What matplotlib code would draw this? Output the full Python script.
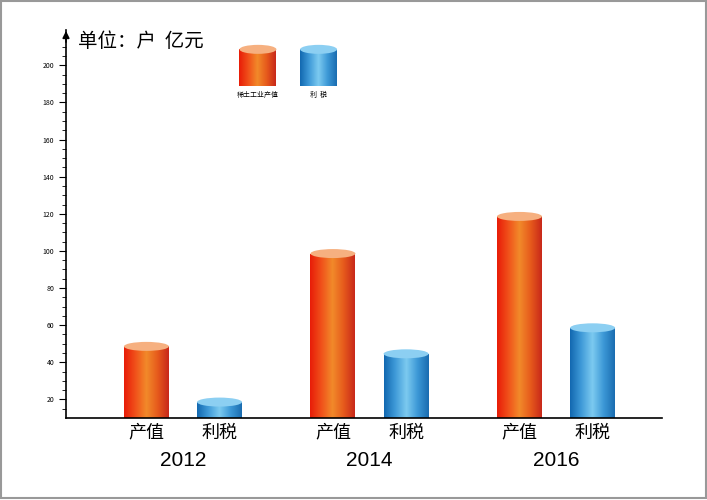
import numpy as np
import matplotlib
matplotlib.use("Agg")
import matplotlib.pyplot as plt
from matplotlib.patches import Ellipse, Rectangle
from matplotlib.colors import LinearSegmentedColormap

plt.rcParams['font.family'] = ['Noto Sans CJK SC', 'DejaVu Sans']

years = ["2012", "2014", "2016"]
series_names = ["产值", "利税"]
legend_names = ["稀土工业产值", "利  税"]
output_value = [51, 101, 121]
tax_value = [21, 47, 61]
yticks = [20, 40, 60, 80, 100, 120, 140, 160, 180, 200]

red_cmap = LinearSegmentedColormap.from_list("r", ["#e81c08", "#f0501a", "#f28a2a", "#e65a1c", "#c8281a"])
blue_cmap = LinearSegmentedColormap.from_list("b", ["#1268b0", "#3f9ad8", "#7ccaf0", "#3c98d6", "#1a6cb0"])
red_cap = "#f6b080"
blue_cap = "#8ccff2"

fig = plt.figure(figsize=(7.07, 5.0), dpi=100)
ax = fig.add_axes([66/707, 82/500, 596/707, 388/500])
ymin, ymax = 10, 219
ax.set_xlim(-0.627, 2.568)
ax.set_ylim(ymin, ymax)
px_per_unit = 388 / (ymax - ymin)
cap_h = 9 / px_per_unit

grad = np.linspace(0, 1, 256).reshape(1, -1)

def cylinder(xc, w, y0, y1, cmap, capc):
    top = y1 - cap_h / 2
    im = ax.imshow(grad, cmap=cmap, extent=(xc - w/2, xc + w/2, y0, top), aspect='auto', zorder=2)
    rect = Rectangle((xc - w/2, y0), w, top - y0, transform=ax.transData, fill=False, lw=0)
    ax.add_patch(rect)
    im.set_clip_path(rect)
    ax.add_patch(Ellipse((xc, top), w, cap_h, color=capc, zorder=3, lw=0))

w = 0.241
off = 0.196
for i in range(3):
    cylinder(i - off, w, ymin, output_value[i], red_cmap, red_cap)
    cylinder(i + off, w, ymin, tax_value[i], blue_cmap, blue_cap)
    ax.text(i - off, -0.038, series_names[0], transform=ax.get_xaxis_transform(), ha='center', va='center', fontsize=13)
    ax.text(i + off, -0.038, series_names[1], transform=ax.get_xaxis_transform(), ha='center', va='center', fontsize=13)
    ax.text(i, -0.11, years[i], transform=ax.get_xaxis_transform(), ha='center', va='center', fontsize=15,
            family=['Liberation Sans', 'DejaVu Sans'])

lw_ = 0.198
for xc, cmap, capc, name in [(0.402, red_cmap, red_cap, legend_names[0]), (0.727, blue_cmap, blue_cap, legend_names[1])]:
    cylinder(xc, lw_, 189, 211, cmap, capc)
    ax.text(xc, 184, name, ha='center', va='center', fontsize=5)

ax.text(-0.56, 213, "单位：户  亿元", ha='left', va='center', fontsize=14)

for s in ['top', 'right']:
    ax.spines[s].set_visible(False)
ax.spines['left'].set_linewidth(1.2)
ax.spines['bottom'].set_linewidth(1.2)
ax.set_xticks([])
ax.set_yticks(yticks)
ax.set_yticks(np.arange(15, 215, 5), minor=True)
ax.tick_params(axis='y', labelsize=5, length=5, width=0.8)
ax.tick_params(axis='y', which='minor', length=3, width=0.6)
ax.annotate("", xy=(-0.627, ymax + 1), xytext=(-0.627, ymax - 8),
            arrowprops=dict(arrowstyle='-|>', color='black', lw=1.2), annotation_clip=False)

fig.patches.append(Rectangle((0.002, 0.004), 0.996, 0.994, transform=fig.transFigure, fill=False, ec='#999999', lw=1.5))
fig.savefig("out.png", dpi=100)
